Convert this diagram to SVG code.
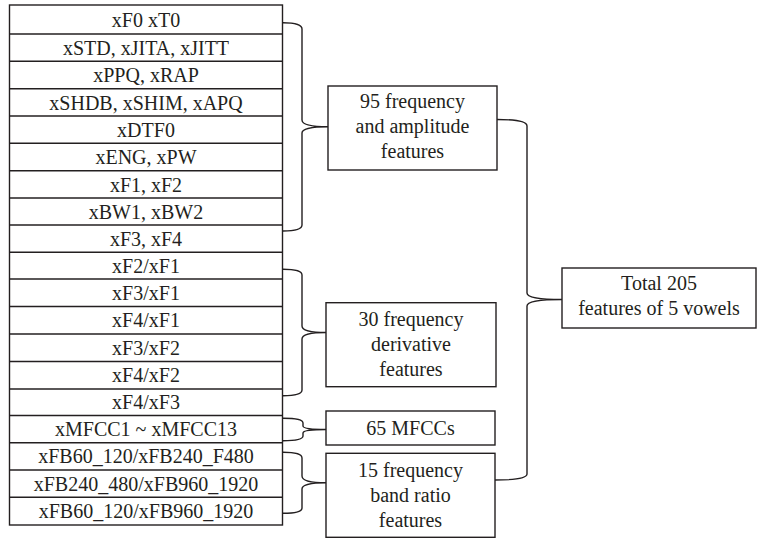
<svg xmlns="http://www.w3.org/2000/svg" width="757" height="539" viewBox="0 0 757 539">
<style>
.box{fill:#fff;stroke:#231f20;stroke-width:1.4}
.t{font-family:'Liberation Serif','Times New Roman','DejaVu Serif',serif;font-size:20px;fill:#231f20;text-anchor:middle}
.br{fill:none;stroke:#231f20;stroke-width:1.4}
</style>
<rect width="757" height="539" fill="#fff"/>
<g id="table">
<rect class="box" x="9.5" y="5" width="273" height="520"/>
<g id="r0"><text class="t" x="146" y="27">xF0 xT0</text></g>
<g id="r1"><line class="box" x1="9.5" y1="34" x2="282.5" y2="34"/><text class="t" x="146" y="55">xSTD, xJITA, xJITT</text></g>
<g id="r2"><line class="box" x1="9.5" y1="61.3" x2="282.5" y2="61.3"/><text class="t" x="146" y="82">xPPQ, xRAP</text></g>
<g id="r3"><line class="box" x1="9.5" y1="88.7" x2="282.5" y2="88.7"/><text class="t" x="146" y="109.5">xSHDB, xSHIM, xAPQ</text></g>
<g id="r4"><line class="box" x1="9.5" y1="116" x2="282.5" y2="116"/><text class="t" x="146" y="136.8">xDTF0</text></g>
<g id="r5"><line class="box" x1="9.5" y1="143.3" x2="282.5" y2="143.3"/><text class="t" x="146" y="164">xENG, xPW</text></g>
<g id="r6"><line class="box" x1="9.5" y1="170.7" x2="282.5" y2="170.7"/><text class="t" x="146" y="191.5">xF1, xF2</text></g>
<g id="r7"><line class="box" x1="9.5" y1="198" x2="282.5" y2="198"/><text class="t" x="146" y="218.5">xBW1, xBW2</text></g>
<g id="r8"><line class="box" x1="9.5" y1="225" x2="282.5" y2="225"/><text class="t" x="146" y="245.7">xF3, xF4</text></g>
<g id="r9"><line class="box" x1="9.5" y1="252.3" x2="282.5" y2="252.3"/><text class="t" x="146" y="273">xF2/xF1</text></g>
<g id="r10"><line class="box" x1="9.5" y1="279" x2="282.5" y2="279"/><text class="t" x="146" y="299.8">xF3/xF1</text></g>
<g id="r11"><line class="box" x1="9.5" y1="306.5" x2="282.5" y2="306.5"/><text class="t" x="146" y="327.3">xF4/xF1</text></g>
<g id="r12"><line class="box" x1="9.5" y1="334" x2="282.5" y2="334"/><text class="t" x="146" y="354.8">xF3/xF2</text></g>
<g id="r13"><line class="box" x1="9.5" y1="361.5" x2="282.5" y2="361.5"/><text class="t" x="146" y="382.3">xF4/xF2</text></g>
<g id="r14"><line class="box" x1="9.5" y1="389" x2="282.5" y2="389"/><text class="t" x="146" y="409.3">xF4/xF3</text></g>
<g id="r15"><line class="box" x1="9.5" y1="415.5" x2="282.5" y2="415.5"/><text class="t" x="146" y="436">xMFCC1 ~ xMFCC13</text></g>
<g id="r16"><line class="box" x1="9.5" y1="442.7" x2="282.5" y2="442.7"/><text class="t" x="146" y="463.4">xFB60_120/xFB240_F480</text></g>
<g id="r17"><line class="box" x1="9.5" y1="470" x2="282.5" y2="470"/><text class="t" x="146" y="490.7">xFB240_480/xFB960_1920</text></g>
<g id="r18"><line class="box" x1="9.5" y1="497.3" x2="282.5" y2="497.3"/><text class="t" x="146" y="518">xFB60_120/xFB960_1920</text></g>
</g>
<g id="n1"><rect class="box" x="328" y="86" width="169" height="84"/><text class="t" x="412.5" y="108">95 frequency</text><text class="t" x="412.5" y="133">and amplitude</text><text class="t" x="412.5" y="158">features</text></g>
<g id="n2"><rect class="box" x="326" y="302.7" width="170" height="84"/><text class="t" x="411" y="326">30 frequency</text><text class="t" x="411" y="351">derivative</text><text class="t" x="411" y="376">features</text></g>
<g id="n3"><rect class="box" x="326" y="411" width="169" height="34"/><text class="t" x="410.5" y="435">65 MFCCs</text></g>
<g id="n4"><rect class="box" x="326" y="453.3" width="169" height="84"/><text class="t" x="410.5" y="477">15 frequency</text><text class="t" x="410.5" y="502">band ratio</text><text class="t" x="410.5" y="527">features</text></g>
<g id="n5"><rect class="box" x="562" y="268" width="194" height="60"/><text class="t" x="659" y="290">Total 205</text><text class="t" x="659" y="315">features of 5 vowels</text></g>
<g id="connectors">
<path class="br" d="M283,22.7 Q302,22.7 302,29 L302,120 Q302,126.7 328,126.7 M283,231 Q302,231 302,225 L302,133 Q302,126.7 328,126.7"/>
<path class="br" d="M283,269.3 Q302,269.3 302,275 L302,326 Q302,332.5 326,332.5 M283,395.7 Q302,395.7 302,390 L302,339 Q302,332.5 326,332.5"/>
<path class="br" d="M283,418.3 Q303,418.3 303,423 L303,426 Q303,429.5 326,429.5 M283,440.7 Q303,440.7 303,436 L303,433 Q303,429.5 326,429.5"/>
<path class="br" d="M283,452.3 Q302,452.3 302,458 L302,476 Q302,482.8 326,482.8 M283,513.3 Q302,513.3 302,508 L302,489 Q302,482.8 326,482.8"/>
<path class="br" d="M497,119.5 Q527,119.5 527,126 L527,293 Q527,299.5 562,299.5 M495,480 Q527,480 527,474 L527,306 Q527,299.5 562,299.5"/>
</g>
</svg>
